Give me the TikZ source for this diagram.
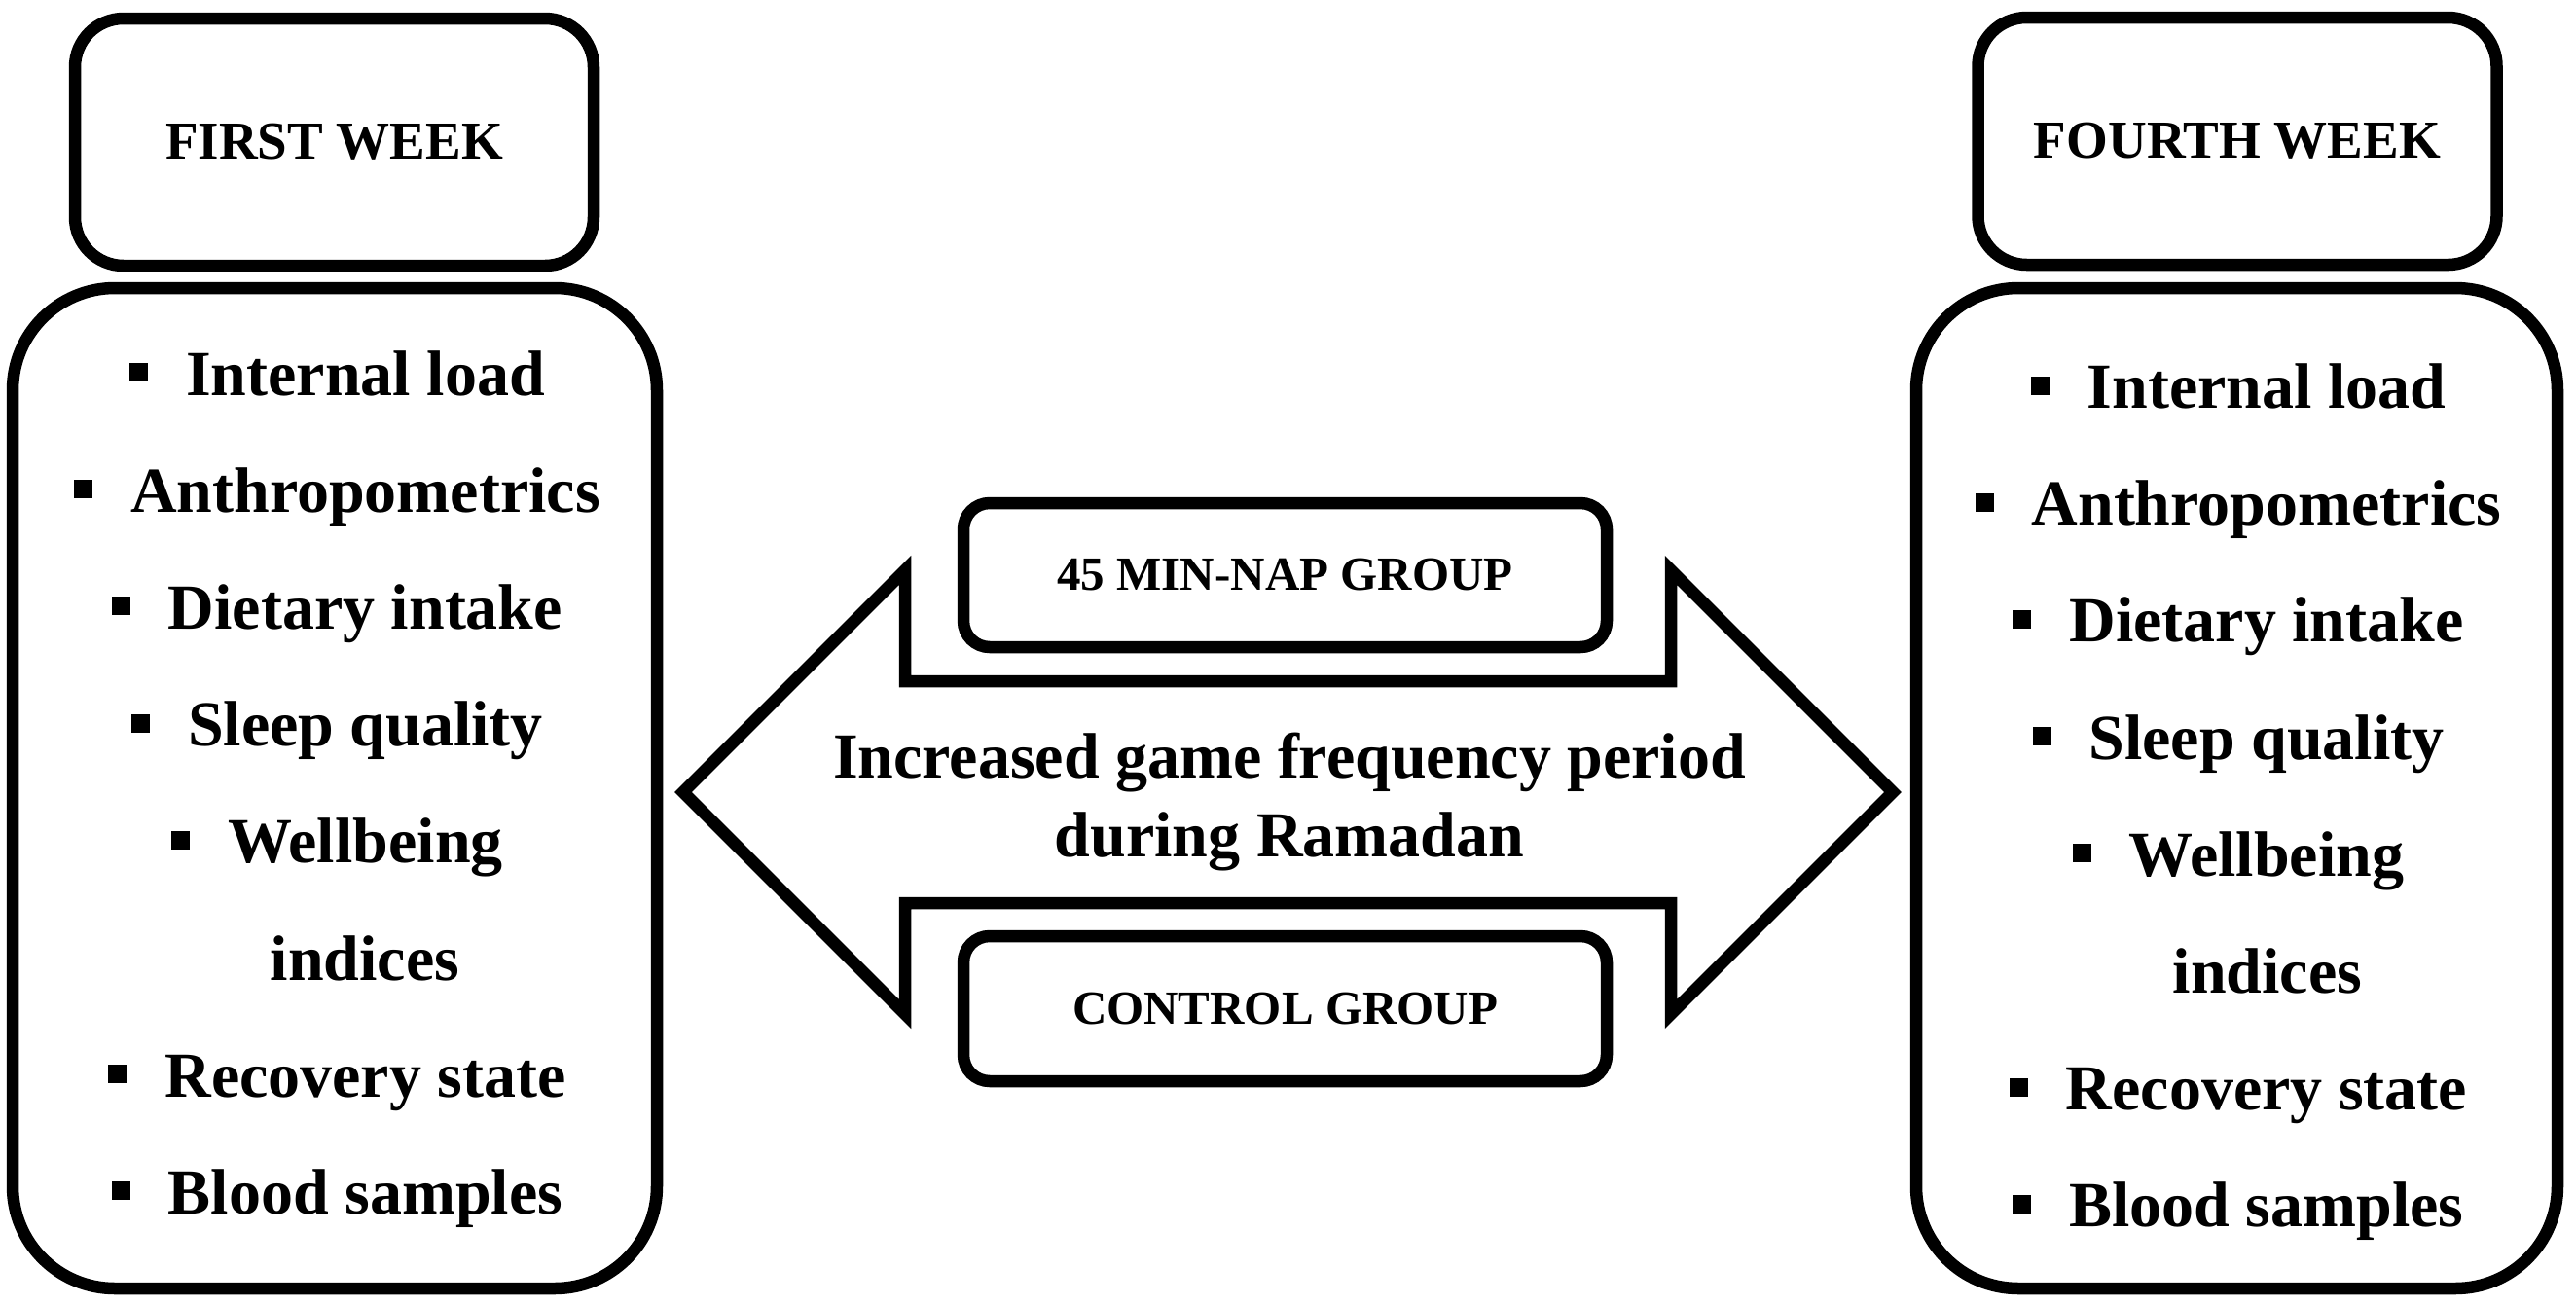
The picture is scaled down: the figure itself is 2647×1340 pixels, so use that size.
\documentclass[tikz,border=0pt]{standalone}
\usepackage{fontspec}
\setmainfont{Liberation Serif}
\tikzset{
  frame/.style={draw=black, line width=6.25pt},
  weekbox/.style={frame, rounded corners=25pt, minimum width=266.5pt, minimum height=127pt, inner sep=0pt, font=\bfseries\fontsize{27.5}{33}\selectfont},
  listbox/.style={frame, rounded corners=52.5pt, minimum height=514pt, inner sep=0pt},
  groupbox/.style={frame, rounded corners=13.5pt, minimum width=330.5pt, minimum height=74pt, inner sep=0pt, font=\bfseries\fontsize{24.5}{30}\selectfont},
  item/.style={anchor=base, inner sep=0pt, font=\bfseries\fontsize{33}{40}\selectfont},
  midtext/.style={align=center, inner sep=0pt, font=\bfseries\fontsize{33}{40.5}\selectfont},
  bigarrow/.style={frame, line join=miter},
}
\newcommand{\sqbul}{\rule[7pt]{9.5pt}{9.5pt}\hspace{19.5pt}}
\begin{document}
\begin{tikzpicture}[x=0.5pt,y=-0.5pt]
\fill[white] (0,0) rectangle (2647,1340);
\useasboundingbox (0,0) rectangle (2647,1340);

% week boxes
\node[weekbox] (fw) at (343.5,146) {FIRST WEEK};
\node[weekbox] (lw) at (2299,145) {FOURTH WEEK};

% list boxes
\node[listbox, minimum width=331pt] (lb) at (344,810) {};
\node[listbox, minimum width=329.5pt] (rb) at (2298.5,810) {};

% left list
\node[item] (l1) at (346.5,406) {\sqbul Internal load};
\node[item] (l2) at (346.5,526.2) {\sqbul Anthropometrics};
\node[item] (l3) at (346.5,646.4) {\sqbul Dietary intake};
\node[item] (l4) at (346.5,766.6) {\sqbul Sleep quality};
\node[item] (l5) at (346.5,886.8) {\sqbul Wellbeing};
\node[item] (l5b) at (375,1007) {indices};
\node[item] (l6) at (346.5,1127.2) {\sqbul Recovery state};
\node[item] (l7) at (346.5,1247.4) {\sqbul Blood samples};

% right list
\node[item] (r1) at (2300,419.5) {\sqbul Internal load};
\node[item] (r2) at (2300,539.7) {\sqbul Anthropometrics};
\node[item] (r3) at (2300,659.9) {\sqbul Dietary intake};
\node[item] (r4) at (2300,780.1) {\sqbul Sleep quality};
\node[item] (r5) at (2300,900.3) {\sqbul Wellbeing};
\node[item] (r5b) at (2330,1020.5) {indices};
\node[item] (r6) at (2300,1140.7) {\sqbul Recovery state};
\node[item] (r7) at (2300,1260.9) {\sqbul Blood samples};

% double arrow
\draw[bigarrow] (702,814) -- (930,586) -- (930,700) -- (1717,700) -- (1717,586)
  -- (1945,814) -- (1717,1042) -- (1717,928) -- (930,928) -- (930,1042) -- cycle;

\node[midtext] (mid) at (1325,824) {Increased game frequency period\\during Ramadan};

% group boxes
\node[groupbox] (nap) at (1320.5,591) {45 MIN-NAP GROUP};
\node[groupbox, minimum height=74.5pt] (ctl) at (1320.5,1036.5) {CONTROL GROUP};
\end{tikzpicture}
\end{document}
